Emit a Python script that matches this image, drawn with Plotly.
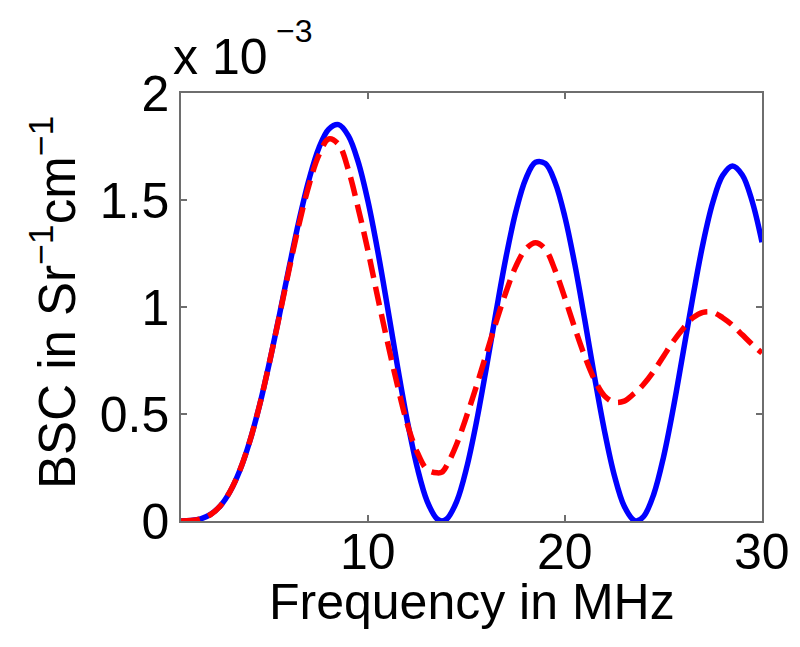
import plotly.graph_objects as go

# frequency in MHz
freq = [0.5, 1, 1.5, 2, 2.5, 3, 3.5, 4, 4.5, 5, 5.5, 6, 6.5, 7, 7.5, 8, 8.5, 9, 9.5, 10,
        10.5, 11, 11.5, 12, 12.5, 13, 13.5, 13.75, 14, 14.5, 15, 15.5, 16, 16.5, 17, 17.5, 18, 18.5, 19, 19.5, 20,
        20.5, 21, 21.5, 22, 22.5, 23, 23.5, 23.64, 24, 24.5, 25, 25.5, 26, 26.5, 27, 27.5, 28, 28.5, 29, 29.5, 30]

# BSC in units of 1e-3 Sr^-1 cm^-1
bsc_solid = [0.0, 0.002, 0.010, 0.031, 0.071, 0.139, 0.239, 0.375, 0.545, 0.745, 0.964, 1.190, 1.407, 1.596, 1.743, 1.831, 1.852, 1.800, 1.677, 1.491,
             1.256, 0.991, 0.719, 0.463, 0.248, 0.092, 0.010, 0.0, 0.010, 0.092, 0.248, 0.462, 0.714, 0.979, 1.232, 1.445, 1.598, 1.676, 1.670, 1.581, 1.418,
             1.197, 0.940, 0.672, 0.422, 0.214, 0.070, 0.003, 0.0, 0.022, 0.124, 0.299, 0.529, 0.790, 1.052, 1.295, 1.488, 1.614, 1.659, 1.617, 1.494, 1.303]

bsc_dashed = [0.0, 0.002, 0.010, 0.030, 0.071, 0.140, 0.240, 0.375, 0.545, 0.745, 0.960, 1.180, 1.390, 1.570, 1.710, 1.785, 1.760, 1.640, 1.460, 1.260,
              1.040, 0.830, 0.630, 0.450, 0.320, 0.240, 0.225, 0.228, 0.260, 0.360, 0.490, 0.630, 0.780, 0.930, 1.070, 1.190, 1.270, 1.300, 1.270, 1.170, 1.040,
              0.900, 0.770, 0.660, 0.585, 0.555, 0.560, 0.595, 0.605, 0.640, 0.700, 0.770, 0.840, 0.900, 0.950, 0.975, 0.975, 0.950, 0.915, 0.870, 0.825, 0.785]

x_ticks = [10, 20, 30]
x_ticklabels = ['10', '20', '30']
y_ticks = [0, 0.5, 1, 1.5, 2]
y_ticklabels = ['0', '0.5', '1', '1.5', '2']

font = 'Liberation Sans, Arial, sans-serif'

fig = go.Figure()
fig.add_trace(go.Scatter(x=freq, y=bsc_solid, mode='lines',
                         line=dict(color='#0000ff', width=5.5, shape='spline')))
fig.add_trace(go.Scatter(x=freq, y=bsc_dashed, mode='lines',
                         line=dict(color='#ff0000', width=5.5, dash='19px,9px', shape='spline')))

axis_style = dict(showgrid=False, zeroline=False, showline=True, linecolor='#6e6e6e', linewidth=1.5,
                  mirror='ticks', ticks='inside', ticklen=6, tickcolor='#6e6e6e', tickwidth=1.5,
                  tickfont=dict(family=font, size=50, color='black'))

# x tick labels sit closer to the axis than plotly's default, so place them as annotations
tick_notes = [dict(text=lab, x=v, y=0, xref='x', yref='paper', showarrow=False,
                   xanchor='center', yanchor='middle', yshift=-31,
                   font=dict(family=font, size=50, color='black'))
              for v, lab in zip(x_ticks, x_ticklabels)]

fig.update_layout(
    width=800, height=647,
    margin=dict(l=173, r=46, t=85, b=134),
    plot_bgcolor='white', paper_bgcolor='white',
    showlegend=False,
    xaxis=dict(range=[0.5, 30], tickvals=x_ticks, showticklabels=False, **axis_style),
    yaxis=dict(range=[0, 2], tickvals=y_ticks, ticktext=y_ticklabels, **axis_style),
    annotations=tick_notes + [
        dict(text='Frequency in MHz', x=0.5, y=-0.189, xref='paper', yref='paper',
             showarrow=False, xanchor='center', yanchor='middle',
             font=dict(family=font, size=50, color='black')),
        dict(text='BSC in Sr<sup>\u22121</sup>cm<sup>\u22121</sup>', x=-0.22, y=0.51,
             xref='paper', yref='paper', textangle=-90, showarrow=False,
             xanchor='center', yanchor='middle',
             font=dict(family=font, size=51, color='black')),
        dict(text='x 10', x=0, y=1, xref='paper', yref='paper',
             showarrow=False, xanchor='left', yanchor='bottom', xshift=-10, yshift=6,
             font=dict(family=font, size=50, color='black')),
        dict(text='\u22123', x=0, y=1, xref='paper', yref='paper',
             showarrow=False, xanchor='left', yanchor='bottom', xshift=93, yshift=42,
             font=dict(family=font, size=32, color='black')),
    ],
)

fig.write_html('out.html')
